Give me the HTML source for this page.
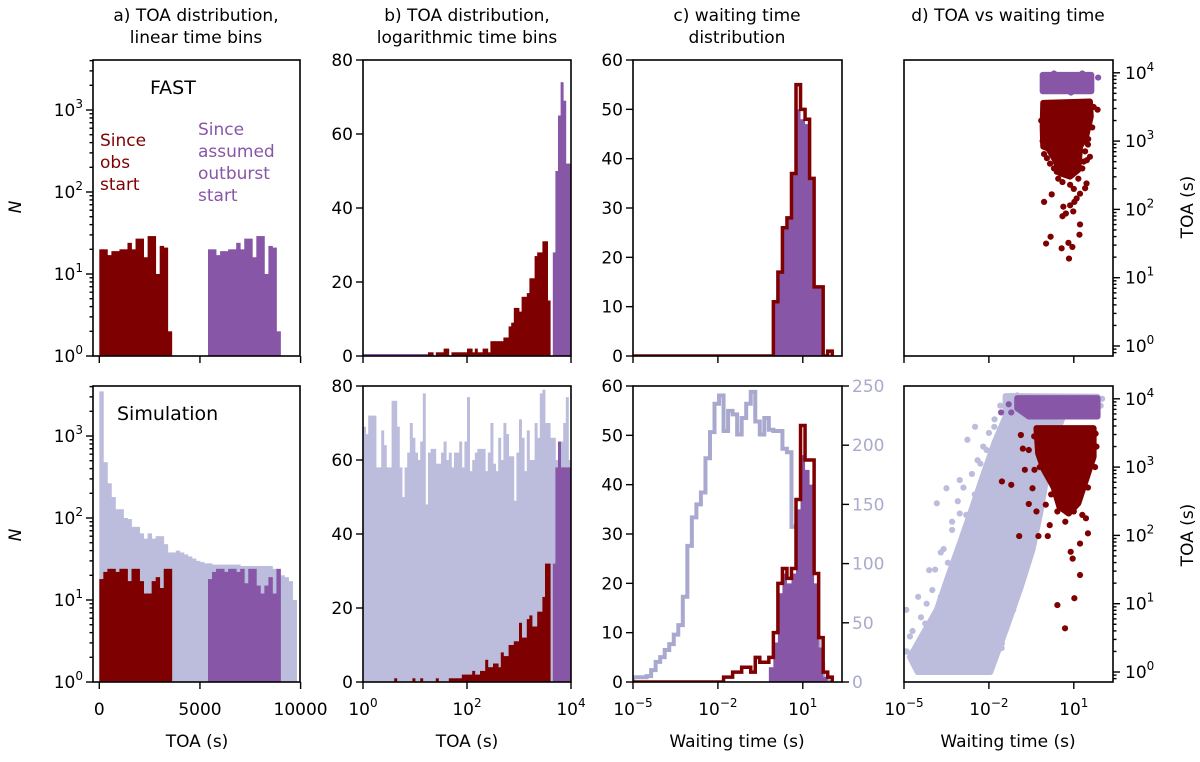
<!DOCTYPE html>
<html><head><meta charset="utf-8"><style>
html,body{margin:0;padding:0;background:#fff;}
svg{display:block;font-family:"DejaVu Sans","Liberation Sans",sans-serif;}
</style></head><body>
<svg id="chart" width="1200" height="762" viewBox="0 0 1200 762" xmlns="http://www.w3.org/2000/svg">
<rect x="0" y="0" width="1200" height="762" fill="#fff"/>
<g font-size="17" text-anchor="middle">
<text x="196" y="21">a) TOA distribution,</text>
<text x="196" y="43">linear time bins</text>
<text x="467" y="21">b) TOA distribution,</text>
<text x="467" y="43">logarithmic time bins</text>
<text x="737" y="21">c) waiting time</text>
<text x="737" y="43">distribution</text>
<text x="1008" y="21">d) TOA vs waiting time</text>
</g>
<g>
<text x="150" y="94" font-size="19">FAST</text>
<text x="117" y="420" font-size="19">Simulation</text>
<text x="100" y="146" font-size="17" fill="#7f0000"><tspan x="100">Since</tspan><tspan x="100" dy="22">obs</tspan><tspan x="100" dy="22">start</tspan></text>
<text x="198" y="135" font-size="17" fill="#8856a7"><tspan x="198">Since</tspan><tspan x="198" dy="22">assumed</tspan><tspan x="198" dy="22">outburst</tspan><tspan x="198" dy="22">start</tspan></text>
<text transform="translate(21,207) rotate(-90)" text-anchor="middle" font-size="17" font-style="italic">N</text>
<text transform="translate(21,535) rotate(-90)" text-anchor="middle" font-size="17" font-style="italic">N</text>
<text transform="translate(1193,207) rotate(-90)" text-anchor="middle" font-size="17">TOA (s)</text>
<text transform="translate(1193,535) rotate(-90)" text-anchor="middle" font-size="17">TOA (s)</text>
<text x="197" y="747" text-anchor="middle" font-size="17">TOA (s)</text>
<text x="467" y="747" text-anchor="middle" font-size="17">TOA (s)</text>
<text x="737" y="747" text-anchor="middle" font-size="17">Waiting time (s)</text>
<text x="1008" y="747" text-anchor="middle" font-size="17">Waiting time (s)</text>
</g>
</svg>
<script>
// ---------- DATA ----------
const aBinWidth = 200;
const aTopDark = [20,20,17,19,19,20,20,24,20,27,27,16,29,29,10,22,21,2];
const aTopPurpleStart = 5400;
const aTopPurple = [20,20,17,19,19,20,20,24,20,27,27,16,29,29,10,22,21,2];
const aBotLav = [3500,480,265,180,128,128,100,97,78,78,65,56,65,56,60,60,48,38,38,40,38,36,34,32,30,29,28,28,27,27,27,27,27,27,27,26,26,26,26,26,26,26,26,24,21,20,19,17,10];
const aBotDark = [18,22,24,24,22,24,24,17,24,24,17,12,12,17,19,14,24,24];
const aBotPurpleStart = 5400;
const aBotPurple = [18,22,24,24,22,24,24,22,24,16,24,24,15,12,15,19,12,24];
const aXTicks = [0,5000,10000];
const aXTickLabels = ['0','5000','10000'];
const aYTickExp = ['0','1','2','3'];

const bBinLog = 0.05;
const bTopDark = [0,0,0,0,0,0,0,0,0,0,0,0,0,0,0,0,0,0,0,0,0,0,0,0,0,
 1,1,0,1,1,1,2,2,0,1,1,1,1,1,1,2,2,1,2,1,1,2,2,1,4,4,4,4,4,5,5,8,9,13,13,12,16,16,17,21,21,27,28,28,31,31,15,
 0,0,0,0,0,0,0,0];
const bTopPurple = [0,0,0,0,0,0,0,0,0,0,0,0,0,0,0,0,0,0,0,0,0,0,0,0,0,0,0,0,0,0,0,0,0,0,0,0,0,0,0,0,
 0,0,0,0,0,0,0,0,0,0,0,0,0,0,0,0,0,0,0,0,0,0,0,0,0,0,0,0,0,0,0,0,0,28,50,65,74,69,52,52];
const bBotLav = [69,67,72,72,72,58,58,68,64,58,58,76,76,69,58,50,58,62,70,66,62,60,65,78,48,62,63,63,59,59,
 62,65,60,62,58,62,62,65,58,65,77,57,60,62,63,63,63,57,62,70,59,57,66,60,70,67,61,61,49,62,
 71,66,57,68,60,60,70,66,78,79,70,70,66,66,60,58,65,70,77,60];
const bBotDark = [0,0,0,0,0,0,0,0,0,0,0,0,1,0,0,0,0,0,0,1,0,0,1,0,0,0,0,0,1,0,
 0,0,0,1,1,1,1,1,2,2,2,2,3,2,2,3,3,6,4,4,5,5,4,8,7,7,10,10,11,11,
 16,12,12,17,18,15,15,19,19,23,32,32,0,0,0,0,0,0,0,0];
const bBotPurple = [0,0,0,0,0,0,0,0,0,0,0,0,0,0,0,0,0,0,0,0,0,0,0,0,0,0,0,0,0,0,0,0,0,0,0,0,0,0,0,0,
 0,0,0,0,0,0,0,0,0,0,0,0,0,0,0,0,0,0,0,0,0,0,0,0,0,0,0,0,0,0,0,0,0,32,58,65,58,58,58,58];
const bXTickExp = ['0','2','4'];
const bYTicks = [0,20,40,60,80];

const cEdge0 = -5;
const cBinLog = 0.16;
const cTopDark = [0,0,0,0,0,0,0,0,0,0,0,0,0,0,0,0,0,0,0,0,0,0,0,0,0,0,0,0,0,0,0,11,17,26,28,37,55,50,48,36,14,14,0,1];
const cTopPurple = [0,0,0,0,0,0,0,0,0,0,0,0,0,0,0,0,0,0,0,0,0,0,0,0,0,0,0,0,0,0,0,11,17,26,28,37,50,48,47,36,14,14,0,0];
const cBotLav = [4,4,4,5,10,17,21,27,32,40,48,72,115,139,150,160,189,211,235,242,212,229,226,209,223,235,245,220,209,223,213,212,212,197,194,131,132,103,60,56,38,15,3,0];
const cBotDark = [0,0,0,0,0,0,0,0,0,0,0,0,0,0,0,0,0,0,0,0,1,1,2,2,3,3,2,5,4,4,5,10,20,23,21,23,37,52,45,45,22,9,2,1];
const cBotPurple = [0,0,0,0,0,0,0,0,0,0,0,0,0,0,0,0,0,0,0,0,0,0,0,0,0,0,0,0,0,0,3,8,18,22,20,22,35,46,43,40,20,7,1,0];
const cXTickExp = ['−5','−2','1'];
const cXTickLog = [-5,-2,1];
const cYTicks = [0,10,20,30,40,50,60];
const cRightTicks = [0,50,100,150,200,250];

const dYTickExp = ['0','1','2','3','4'];
const dTopPurpleCoreW = [-0.1,1.62,1.62,-0.1];
const dTopPurpleCoreT = [3.97,3.97,3.73,3.73];
const dTopPurpleW = [1.86,-0.05,1.6,0.3,0.9,1.3];
const dTopPurpleT = [3.93,3.95,3.75,3.99,3.71,3.99];
const dTopDarkCoreW = [-0.08,1.57,1.60,1.43,1.22,1.16,0.87,0.51,0.34,0.10,-0.08,-0.10];
const dTopDarkCoreT = [3.56,3.58,3.36,3.06,2.92,2.58,2.48,2.53,2.72,2.89,2.92,3.21];
const dTopDarkW = [1.84,1.55,1.51,1.57,-0.05,1.46,0.16,0.40,0.87,1.16,1.45,1.40,1.22,1.10,0.22,-0.05,1.02,0.87,0.63,0.98,0.72,1.22,1.20,0.18,0.02,0.81,0.57,0.83,0.95,0.60,
 1.7,1.65,1.5,-0.15,-0.1,0.05,0.3,1.3,1.4,0.6,1.0,0.2,0.45,1.35];
const dTopDarkT = [3.46,3.28,3.03,2.77,2.81,2.72,2.67,2.55,2.36,2.45,2.38,2.31,2.23,2.16,2.22,2.11,2.11,2.06,2.04,1.97,1.94,1.78,1.63,1.60,1.50,1.51,1.43,1.28,1.45,1.90,
 3.5,3.2,2.95,3.3,3.0,2.75,2.6,2.6,2.85,2.4,2.3,3.1,2.45,2.7];
const dBotLavCoreW = [-4.52,-1.95,-1.41,-0.87,-0.46,-0.19,0.08,0.35,0.62,1.84,1.84,-1.41,-1.41,-1.81,-2.22,-2.62,-3.03,-3.44,-3.84,-4.38,-4.79];
const dBotLavCoreT = [0.00,0.00,0.61,1.25,1.79,2.32,2.96,3.45,3.74,3.84,4.03,4.04,3.74,3.35,2.86,2.37,1.88,1.40,0.91,0.52,0.22];
const dBotLavW = [-4.92,-4.79,-4.11,-3.50,-3.84,-3.03,-2.76,-2.49,-1.54,-1.27,-1.54,-1.14,-4.25,-4.65,-2.08,-3.03,-3.30,-1.81,-0.87,-0.46,-4.95,-4.5,-3.7,-2.3,-1.0,
 -4.9,-4.7,-4.4,-4.2,-4.0,-3.9,-3.6,-3.3,-3.1,-2.9,-2.6,-2.4,-2.2,-2.0,-1.8,-1.6,-4.6,-4.3,-3.7,-3.45,-2.8,-2.5,-2.1,-1.9,-1.6,-1.2,-0.9,-0.6,-0.3,0.0,-1.55,2.0,1.95];
const dBotLavT = [0.91,0.52,1.49,2.69,2.47,2.81,3.40,3.59,3.40,4.03,0.42,0.91,0.71,0.13,3.25,2.32,2.08,3.59,1.69,2.37,0.30,1.10,1.75,3.05,4.05,
 0.3,0.6,0.8,1.0,1.2,1.5,1.8,2.2,2.5,2.7,2.9,3.1,3.3,3.5,3.7,3.9,0.2,0.45,1.1,1.6,2.3,2.6,2.95,3.15,3.55,1.2,1.8,2.3,2.9,3.4,0.35,4.0,3.9];
const dBotPurpleCoreW = [-1.0,1.84,1.84,-0.59,-1.0];
const dBotPurpleCoreT = [4.01,4.01,3.74,3.74,3.86];
const dBotPurpleW = [-1.57,-1.21,-1.3];
const dBotPurpleT = [3.80,3.80,3.92];
const dBotDarkCoreW = [-0.32,1.70,1.70,1.43,1.16,0.82,0.49,0.28,-0.06,-0.26];
const dBotDarkCoreT = [3.57,3.57,3.15,2.81,2.47,2.32,2.42,2.71,2.96,3.20];
const dBotDarkW = [-1.54,-1.21,-0.87,-0.80,-0.73,-0.59,-0.46,-0.39,-0.93,-0.25,0.08,-0.59,-0.32,0.15,0.42,0.42,0.69,1.02,1.22,0.89,1.22,1.50,0.96,0.01,1.43,1.77,1.63,-0.19,
 1.8,1.75,1.5,-0.4,-0.2,0.2,1.3,0.7,1.0];
const dBotDarkT = [2.79,2.74,3.47,3.27,2.96,3.25,2.69,2.96,1.99,1.99,1.99,2.46,2.35,2.15,2.35,0.98,0.64,1.08,1.42,1.76,1.88,2.03,1.66,2.45,2.25,3.49,3.37,3.20,
 3.3,3.0,2.7,3.45,3.0,2.6,2.3,2.2,2.35];
const dXTickExp = ['−5','−2','1'];
const dXTickLog = [-5,-2,1];

// ---------- RENDERING ----------
const NS = 'http://www.w3.org/2000/svg';
const svg = document.getElementById('chart');
const DARK = '#7f0000', PURPLE = '#8856a7', LAV = '#bcbddc', LAVLINE = '#a9a9cf';
function mk(tag, attrs, name, parent){
  const e = document.createElementNS(NS, tag);
  for (const k in attrs) e.setAttribute(k, attrs[k]);
  
  
  (parent || svg).appendChild(e);
  return e;
}
function label(x, y, base, exp, anchor, name, color){
  const t = mk('text', {x: x, y: y, 'text-anchor': anchor, 'font-size': 17, fill: color || '#000'}, name);
  t.appendChild(document.createTextNode(base));
  if (exp !== undefined){
    const s = mk('tspan', {dy: -8, 'font-size': 12}, name + '-exponent', t);
    s.textContent = exp;
  }
  return t;
}
const cols = {a:[93,300], b:[363,571], c:[633,842], d:[904,1113]};
const rows = {top:[60,356], bot:[386,682]};
let clipId = 0;
function panel(col, row, name){
  const [x0,x1] = cols[col], [y0,y1] = rows[row];
  const cp = mk('clipPath', {id: 'clip' + (++clipId)}, name + '-clip');
  mk('rect', {x: x0, y: y0, width: x1 - x0, height: y1 - y0}, name + '-clip-rect', cp);
  const g = mk('g', {'clip-path': 'url(#clip' + clipId + ')'}, name + '-plot-area');
  return {g, x0, x1, y0, y1};
}
function frame(p, name){
  mk('rect', {x: p.x0, y: p.y0, width: p.x1 - p.x0, height: p.y1 - p.y0, fill: 'none', stroke: '#000', 'stroke-width': 1.6}, name + '-frame');
}
function tick(x1, y1, x2, y2, name){
  mk('line', {x1: x1, y1: y1, x2: x2, y2: y2, stroke: '#000', 'stroke-width': 1.4}, name);
}
const ax = v => 99.3 + v * 0.02013;
const ayLog = (p, v) => p.y1 - Math.log10(v) * 82;
const bx = lg => 363 + lg * 52;
const by = (p, v) => p.y1 - v * (296 / 80);
const cx = lg => 633 + (lg + 5) * 28.3;
const cyL = (p, v) => p.y1 - v * (296 / 60);
const cyR = (p, v) => p.y1 - v * (296 / 250);
const dx = lw => 904 + (lw + 5) * 28.3;
const dy = (p, lt) => p.y1 - 10 - lt * 68.3;

function barsLinear(p, values, start, color, name){
  values.forEach((v, i) => {
    if (v <= 0) return;
    const xa = ax(start + i * aBinWidth), xb = ax(start + (i + 1) * aBinWidth);
    const yy = ayLog(p, v);
    mk('rect', {x: xa, y: yy, width: xb - xa + 0.4, height: p.y1 - yy, fill: color}, name + '-bar', p.g);
  });
}
function barsLog(p, values, color, name){
  values.forEach((v, i) => {
    if (v <= 0) return;
    const xa = bx(i * bBinLog), xb = bx((i + 1) * bBinLog);
    const yy = by(p, v);
    mk('rect', {x: xa, y: yy, width: xb - xa + 0.4, height: p.y1 - yy, fill: color}, name + '-bar', p.g);
  });
}
function stepD(p, values, yf){
  let d = 'M' + cx(cEdge0) + ',' + p.y1;
  values.forEach((v, i) => {
    const xa = cx(cEdge0 + i * cBinLog), xb = cx(cEdge0 + (i + 1) * cBinLog);
    d += ' L' + xa + ',' + yf(p, v) + ' L' + xb + ',' + yf(p, v);
  });
  d += ' L' + cx(cEdge0 + values.length * cBinLog) + ',' + p.y1;
  return d;
}
function poly(p, W, T, color, name){
  const pts = W.map((w, i) => dx(w) + ',' + dy(p, T[i])).join(' ');
  mk('polygon', {points: pts, fill: color, stroke: color, 'stroke-width': 6, 'stroke-linejoin': 'round'}, name, p.g);
}
function dots(p, W, T, color, name){
  W.forEach((w, i) => {
    mk('circle', {cx: dx(w), cy: dy(p, T[i]), r: 3.1, fill: color}, name, p.g);
  });
}
function logYAxisLeft(p, yf, maxV, exps, name, labels){
  for (let dec = 1; dec <= maxV; dec *= 10){
    for (let m = 1; m < 10; m++){
      const v = dec * m; if (v > maxV) break;
      const y = yf(p, v);
      tick(p.x0, y, p.x0 - (m === 1 ? 7 : 3.5), y, name + (m === 1 ? '-major-tick' : '-minor-tick'));
    }
  }
  if (labels) exps.forEach(e => label(p.x0 - 10, yf(p, Math.pow(10, +e)) + 6, '10', e, 'end', name + '-tick-label'));
}

['top','bot'].forEach(row => {
  const p = panel('a', row, 'panel-a-' + row);
  if (row === 'top'){
    barsLinear(p, aTopDark, 0, DARK, 'a-top-obs-start');
    barsLinear(p, aTopPurple, aTopPurpleStart, PURPLE, 'a-top-outburst-start');
  } else {
    barsLinear(p, aBotLav, 0, LAV, 'a-bottom-simulation');
    barsLinear(p, aBotDark, 0, DARK, 'a-bottom-obs-start');
    barsLinear(p, aBotPurple, aBotPurpleStart, PURPLE, 'a-bottom-outburst-start');
  }
  frame(p, 'panel-a-' + row);
  logYAxisLeft(p, ayLog, 4000, aYTickExp, 'a-' + row + '-y', true);
  aXTicks.forEach((t, i) => {
    tick(ax(t), p.y1, ax(t), p.y1 + 7, 'a-' + row + '-x-tick');
    if (row === 'bot') label(ax(t), p.y1 + 33, aXTickLabels[i], undefined, 'middle', 'a-x-tick-label');
  });
});

['top','bot'].forEach(row => {
  const p = panel('b', row, 'panel-b-' + row);
  if (row === 'top'){
    mk('line', {x1: bx(0), y1: p.y1 - 1, x2: bx(1.25), y2: p.y1 - 1, stroke: PURPLE, 'stroke-width': 2}, 'b-top-baseline', p.g);
    barsLog(p, bTopDark, DARK, 'b-top-obs-start');
    barsLog(p, bTopPurple, PURPLE, 'b-top-outburst-start');
  } else {
    barsLog(p, bBotLav, LAV, 'b-bottom-simulation');
    barsLog(p, bBotDark, DARK, 'b-bottom-obs-start');
    barsLog(p, bBotPurple, PURPLE, 'b-bottom-outburst-start');
  }
  frame(p, 'panel-b-' + row);
  bYTicks.forEach(t => {
    const y = by(p, t);
    tick(p.x0, y, p.x0 - 7, y, 'b-' + row + '-y-tick');
    label(p.x0 - 10, y + 6, String(t), undefined, 'end', 'b-y-tick-label');
  });
  bXTickExp.forEach(e => {
    const x = bx(+e);
    tick(x, p.y1, x, p.y1 + 7, 'b-' + row + '-x-tick');
    if (row === 'bot') label(x, p.y1 + 33, '10', e, 'middle', 'b-x-tick-label');
  });
});

['top','bot'].forEach(row => {
  const p = panel('c', row, 'panel-c-' + row);
  if (row === 'top'){
    mk('path', {d: stepD(p, cTopPurple, cyL), fill: PURPLE, stroke: 'none'}, 'c-top-outburst-fill', p.g);
    mk('path', {d: stepD(p, cTopDark, cyL), fill: 'none', stroke: DARK, 'stroke-width': 3.5, 'stroke-linejoin': 'miter'}, 'c-top-obs-step', p.g);
  } else {
    mk('path', {d: stepD(p, cBotLav, cyR), fill: 'none', stroke: LAVLINE, 'stroke-width': 4}, 'c-bottom-simulation-step', p.g);
    mk('path', {d: stepD(p, cBotPurple, cyL), fill: PURPLE, stroke: 'none'}, 'c-bottom-outburst-fill', p.g);
    mk('path', {d: stepD(p, cBotDark, cyL), fill: 'none', stroke: DARK, 'stroke-width': 3.5}, 'c-bottom-obs-step', p.g);
  }
  frame(p, 'panel-c-' + row);
  cYTicks.forEach(t => {
    const y = cyL(p, t);
    tick(p.x0, y, p.x0 - 7, y, 'c-' + row + '-y-tick');
    label(p.x0 - 10, y + 6, String(t), undefined, 'end', 'c-y-tick-label');
  });
  if (row === 'bot'){
    cRightTicks.forEach(t => {
      const y = cyR(p, t);
      tick(p.x1, y, p.x1 + 7, y, 'c-right-y-tick');
      label(p.x1 + 10, y + 6, String(t), undefined, 'start', 'c-right-y-tick-label', '#aaaacc');
    });
  }
  cXTickLog.forEach((lg, i) => {
    tick(cx(lg), p.y1, cx(lg), p.y1 + 7, 'c-' + row + '-x-tick');
    if (row === 'bot') label(cx(lg), p.y1 + 33, '10', cXTickExp[i], 'middle', 'c-x-tick-label');
  });
});

['top','bot'].forEach(row => {
  const p = panel('d', row, 'panel-d-' + row);
  if (row === 'top'){
    poly(p, dTopPurpleCoreW, dTopPurpleCoreT, PURPLE, 'd-top-outburst-cluster');
    dots(p, dTopPurpleW, dTopPurpleT, PURPLE, 'd-top-outburst-point');
    poly(p, dTopDarkCoreW, dTopDarkCoreT, DARK, 'd-top-obs-cluster');
    dots(p, dTopDarkW, dTopDarkT, DARK, 'd-top-obs-point');
  } else {
    poly(p, dBotLavCoreW, dBotLavCoreT, LAV, 'd-bottom-simulation-cluster');
    dots(p, dBotLavW, dBotLavT, LAV, 'd-bottom-simulation-point');
    poly(p, dBotPurpleCoreW, dBotPurpleCoreT, PURPLE, 'd-bottom-outburst-cluster');
    dots(p, dBotPurpleW, dBotPurpleT, PURPLE, 'd-bottom-outburst-point');
    poly(p, dBotDarkCoreW, dBotDarkCoreT, DARK, 'd-bottom-obs-cluster');
    dots(p, dBotDarkW, dBotDarkT, DARK, 'd-bottom-obs-point');
  }
  frame(p, 'panel-d-' + row);
  for (let e = 0; e <= 4; e++){
    for (let m = 1; m < 10; m++){
      const lt = e + Math.log10(m);
      if (lt > 4.19) break;
      const y = dy(p, lt);
      tick(p.x1, y, p.x1 + (m === 1 ? 7 : 3.5), y, 'd-' + row + (m === 1 ? '-y-major-tick' : '-y-minor-tick'));
    }
  }
  for (let m = 6; m < 10; m++){
    const y = dy(p, -1 + Math.log10(m));
    if (y < p.y1) tick(p.x1, y, p.x1 + 3.5, y, 'd-' + row + '-y-minor-tick');
  }
  dYTickExp.forEach(e => label(p.x1 + 12, dy(p, +e) + 6, '10', e, 'start', 'd-y-tick-label'));
  dXTickLog.forEach((lg, i) => {
    tick(dx(lg), p.y1, dx(lg), p.y1 + 7, 'd-' + row + '-x-tick');
    if (row === 'bot') label(dx(lg), p.y1 + 33, '10', dXTickExp[i], 'middle', 'd-x-tick-label');
  });
});
</script>
</body></html>
